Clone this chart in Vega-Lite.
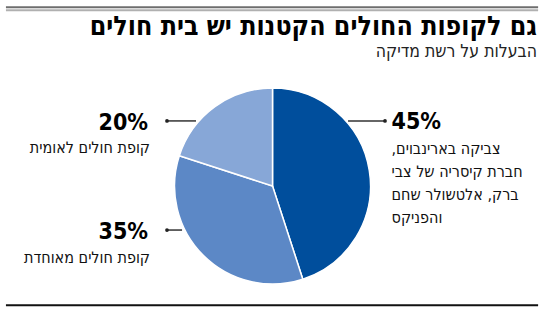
{
  "$schema": "https://vega.github.io/schema/vega-lite/v6.json",
  "width": 550,
  "height": 248,
  "padding": {"top": 6, "bottom": 5, "left": 0, "right": 0},
  "autosize": {"type": "pad"},
  "background": "white",
  "title": {
    "text": "גם לקופות החולים הקטנות יש בית חולים",
    "subtitle": "הבעלות על רשת מדיקה",
    "anchor": "end",
    "frame": "group",
    "dx": -13,
    "offset": -54,
    "font": "DejaVu Sans Condensed",
    "fontSize": 26.5,
    "fontWeight": "bold",
    "color": "#000000",
    "subtitleFont": "DejaVu Sans Condensed",
    "subtitleFontSize": 17.5,
    "subtitleColor": "#222222",
    "subtitlePadding": 2
  },
  "data": {
    "values": [
      {"owner": "צביקה בארינבוים,\u200f\nחברת קיסריה של צבי\nברק, אלטשולר שחם\nוהפניקס", "share": 0.45},
      {"owner": "קופת חולים מאוחדת", "share": 0.35},
      {"owner": "קופת חולים לאומית", "share": 0.20}
    ]
  },
  "config": {"view": {"stroke": null}, "axis": {"disable": true}},
  "layer": [
    {
      "data": {"values": [{}]},
      "mark": {"type": "rule", "color": "#6e6e6e", "strokeWidth": 2},
      "encoding": {
        "x": {"datum": -2.69, "type": "quantitative", "scale": {"domain": [-2.75, 2.8], "nice": false, "zero": false}},
        "x2": {"datum": 2.68},
        "y": {"datum": 1.801, "type": "quantitative", "scale": {"domain": [-1.25, 1.25], "nice": false, "zero": false}}
      }
    },
    {
      "data": {"values": [{}]},
      "mark": {"type": "rule", "color": "#b0b0b0", "strokeWidth": 2},
      "encoding": {
        "x": {"datum": -2.69, "type": "quantitative"},
        "x2": {"datum": 2.68},
        "y": {"datum": 1.771, "type": "quantitative"}
      }
    },
    {
      "data": {"values": [{}]},
      "mark": {"type": "rule", "color": "#111111", "strokeWidth": 2},
      "encoding": {
        "x": {"datum": -2.69, "type": "quantitative"},
        "x2": {"datum": 2.68},
        "y": {"datum": -1.201, "type": "quantitative"}
      }
    },
    {
      "mark": {"type": "arc", "outerRadius": 98, "stroke": "white", "strokeWidth": 1.5},
      "encoding": {
        "theta": {"field": "share", "type": "quantitative", "stack": true},
        "order": {"field": "share", "sort": "descending"},
        "color": {
          "field": "owner",
          "type": "nominal",
          "legend": null,
          "scale": {
            "domain": ["צביקה בארינבוים,\u200f\nחברת קיסריה של צבי\nברק, אלטשולר שחם\nוהפניקס", "קופת חולים מאוחדת", "קופת חולים לאומית"],
            "range": ["#004e9c", "#5c88c6", "#87a7d7"]
          }
        },
        "x": {"datum": 0, "type": "quantitative"},
        "y": {"datum": 0, "type": "quantitative"}
      }
    },
    {
      "transform": [{"filter": "datum.share == 0.45"}],
      "layer": [
        {
          "mark": {"type": "rule", "color": "#333333", "strokeWidth": 1.5},
          "encoding": {"x": {"datum": 0.762, "type": "quantitative"}, "x2": {"datum": 1.135}, "y": {"datum": 0.656, "type": "quantitative"}}
        },
        {
          "mark": {"type": "point", "filled": true, "size": 14, "color": "#222222", "opacity": 1},
          "encoding": {"x": {"datum": 1.135, "type": "quantitative"}, "y": {"datum": 0.656, "type": "quantitative"}}
        },
        {
          "mark": {"type": "text", "align": "left", "baseline": "alphabetic", "font": "DejaVu Sans Condensed", "fontWeight": "bold", "fontSize": 23, "color": "#000000"},
          "encoding": {"x": {"datum": 1.201, "type": "quantitative"}, "y": {"datum": 0.57, "type": "quantitative"}, "text": {"field": "share", "type": "quantitative", "format": ".0%"}}
        },
        {
          "mark": {"type": "text", "align": "left", "baseline": "alphabetic", "lineBreak": "\n", "lineHeight": 23, "font": "DejaVu Sans Condensed", "fontSize": 16, "color": "#111111"},
          "encoding": {"x": {"datum": 1.201, "type": "quantitative"}, "y": {"datum": 0.323, "type": "quantitative"}, "text": {"field": "owner", "type": "nominal"}}
        }
      ]
    },
    {
      "transform": [{"filter": "datum.share == 0.2"}],
      "layer": [
        {
          "mark": {"type": "rule", "color": "#333333", "strokeWidth": 1.5},
          "encoding": {"x": {"datum": -1.065, "type": "quantitative"}, "x2": {"datum": -0.772}, "y": {"datum": 0.656, "type": "quantitative"}}
        },
        {
          "mark": {"type": "point", "filled": true, "size": 14, "color": "#222222", "opacity": 1},
          "encoding": {"x": {"datum": -1.065, "type": "quantitative"}, "y": {"datum": 0.656, "type": "quantitative"}}
        },
        {
          "mark": {"type": "text", "align": "right", "baseline": "alphabetic", "font": "DejaVu Sans Condensed", "fontWeight": "bold", "fontSize": 23, "color": "#000000"},
          "encoding": {"x": {"datum": -1.256, "type": "quantitative"}, "y": {"datum": 0.565, "type": "quantitative"}, "text": {"field": "share", "type": "quantitative", "format": ".0%"}}
        },
        {
          "mark": {"type": "text", "align": "right", "baseline": "alphabetic", "font": "DejaVu Sans Condensed", "fontSize": 16, "color": "#111111"},
          "encoding": {"x": {"datum": -1.236, "type": "quantitative"}, "y": {"datum": 0.333, "type": "quantitative"}, "text": {"field": "owner", "type": "nominal"}}
        }
      ]
    },
    {
      "transform": [{"filter": "datum.share == 0.35"}],
      "layer": [
        {
          "mark": {"type": "rule", "color": "#333333", "strokeWidth": 1.5},
          "encoding": {"x": {"datum": -1.065, "type": "quantitative"}, "x2": {"datum": -0.913}, "y": {"datum": -0.444, "type": "quantitative"}}
        },
        {
          "mark": {"type": "point", "filled": true, "size": 14, "color": "#222222", "opacity": 1},
          "encoding": {"x": {"datum": -1.065, "type": "quantitative"}, "y": {"datum": -0.444, "type": "quantitative"}}
        },
        {
          "mark": {"type": "text", "align": "right", "baseline": "alphabetic", "font": "DejaVu Sans Condensed", "fontWeight": "bold", "fontSize": 23, "color": "#000000"},
          "encoding": {"x": {"datum": -1.256, "type": "quantitative"}, "y": {"datum": -0.535, "type": "quantitative"}, "text": {"field": "share", "type": "quantitative", "format": ".0%"}}
        },
        {
          "mark": {"type": "text", "align": "right", "baseline": "alphabetic", "font": "DejaVu Sans Condensed", "fontSize": 16, "color": "#111111"},
          "encoding": {"x": {"datum": -1.236, "type": "quantitative"}, "y": {"datum": -0.777, "type": "quantitative"}, "text": {"field": "owner", "type": "nominal"}}
        }
      ]
    }
  ]
}
